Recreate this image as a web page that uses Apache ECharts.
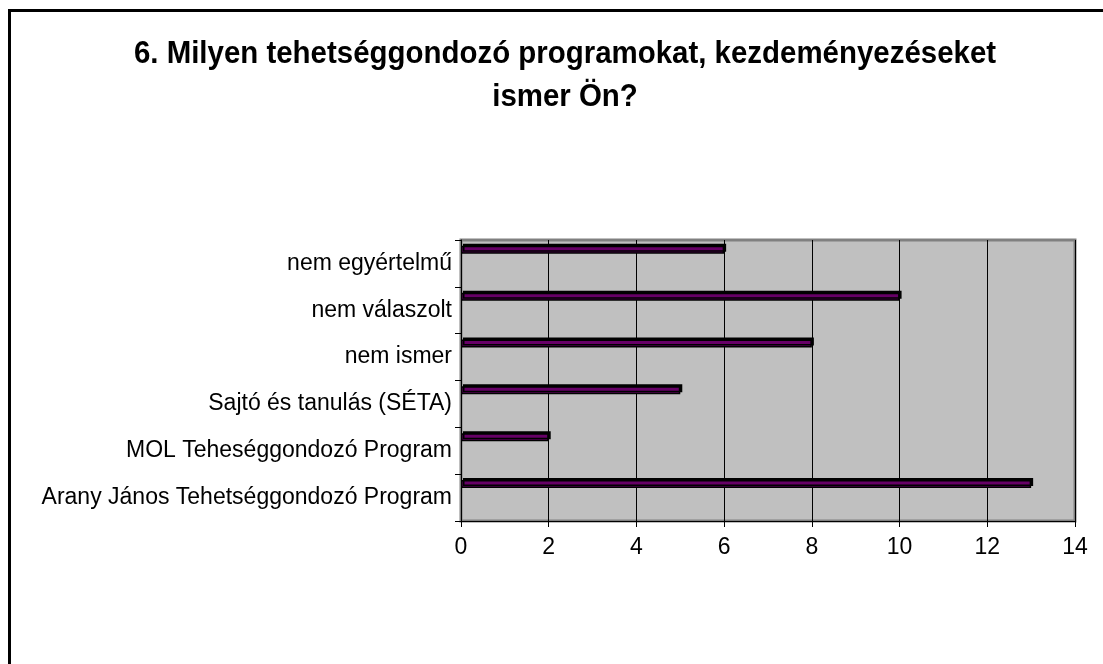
<!DOCTYPE html>
<html>
<head>
<meta charset="utf-8">
<script src="https://cdn.jsdelivr.net/npm/echarts@6/dist/echarts.min.js"></script>
<style>
  html, body { margin: 0; padding: 0; background: #fff; }
  #chart { width: 1103px; height: 664px; }
</style>
</head>
<body>
<div id="chart"></div>
<script>
// Categories listed bottom to top, as the category axis draws them
const categories = [
  "Arany János Tehetséggondozó Program",
  "MOL Teheséggondozó Program",
  "Sajtó és tanulás (SÉTA)",
  "nem ismer",
  "nem válaszolt",
  "nem egyértelmű",
]
const counts = [13, 2, 5, 8, 10, 6]
const titleText = "6. Milyen tehetséggondozó programokat, kezdeményezéseket\nismer Ön?"

const chart = echarts.init(document.getElementById("chart"), null, { renderer: "canvas" })

const labelFont = "'Liberation Sans', Arial, sans-serif"

chart.setOption({
  backgroundColor: "#fff",
  animation: false,
  graphic: [
    // outer frame of the sheet (top and left edges only)
    { type: "rect", left: 8, top: 9, shape: { width: 1200, height: 3 }, style: { fill: "#000" } },
    { type: "rect", left: 8, top: 9, shape: { width: 3, height: 700 }, style: { fill: "#000" } },
    // condensed bold title, the original uses a narrow face
    {
      type: "text",
      x: 565,
      y: 33,
      scaleX: 0.92,
      style: {
        text: titleText,
        textAlign: "center",
        font: "bold 32px 'Liberation Sans', Arial, sans-serif",
        lineHeight: 43,
        fill: "#000",
      },
    },
  ],
  grid: {
    left: 461, right: 28, top: 240, bottom: 143,
    show: true,
    backgroundColor: "#C0C0C0",
    borderColor: "#808080",
    borderWidth: 3,
  },
  xAxis: {
    type: "value",
    min: 0, max: 14, interval: 2,
    axisLine: { show: true, lineStyle: { color: "#000", width: 1 } },
    axisTick: { show: true, length: 6, lineStyle: { color: "#000" } },
    axisLabel: { color: "#000", fontSize: 23, fontFamily: labelFont, margin: 15 },
    splitLine: { show: true, lineStyle: { color: "#000", width: 1 } },
  },
  yAxis: {
    type: "category",
    data: categories,
    axisLine: { show: true, lineStyle: { color: "#000", width: 1 } },
    axisTick: { show: true, length: 6, lineStyle: { color: "#000" } },
    axisLabel: { color: "#000", fontSize: 23, fontFamily: labelFont, margin: 9 },
    splitLine: { show: false },
  },
  series: [
    {
      type: "bar",
      data: counts,
      barWidth: 8,
      barGap: "240%",
      itemStyle: {
        color: "#660066",
        borderColor: "#000",
        borderWidth: 1.5,
        shadowColor: "#000",
        shadowBlur: 0,
        shadowOffsetX: 2,
        shadowOffsetY: -2,
      },
    },
    {
      // empty spacer so the bars sit near the top of each band
      type: "bar",
      data: counts.map(() => 0),
      barWidth: 8,
      silent: true,
      itemStyle: { color: "transparent" },
    },
  ],
})
</script>
</body>
</html>
